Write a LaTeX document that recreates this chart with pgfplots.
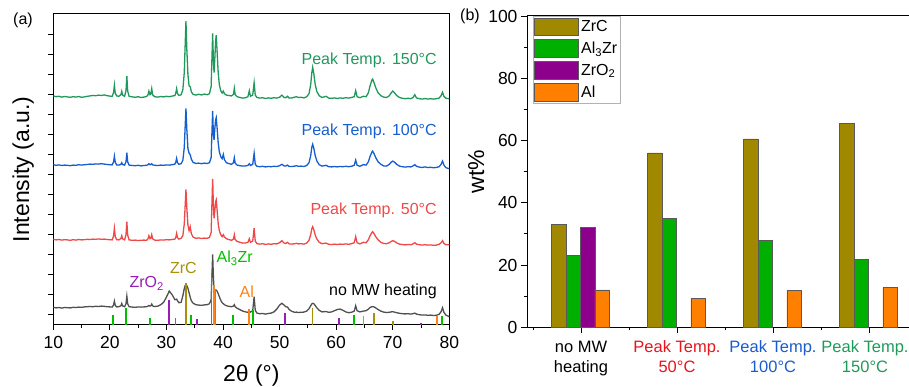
\documentclass[border=0pt]{standalone}
\usepackage{fontspec}
\setmainfont{Liberation Sans}
\usepackage{pgfplots}
\pgfplotsset{compat=1.18}
\usepackage{pgfplotstable}

\definecolor{cG}{RGB}{32,152,92}
\definecolor{cB}{RGB}{22,94,208}
\definecolor{cR}{RGB}{240,72,72}
\definecolor{cK}{RGB}{80,80,80}
\definecolor{sAZ}{RGB}{0,190,0}
\definecolor{sZO}{RGB}{150,30,180}
\definecolor{sZC}{RGB}{168,144,10}
\definecolor{sAL}{RGB}{255,130,20}
\definecolor{bZC}{RGB}{160,136,0}
\definecolor{bAZ}{RGB}{0,176,0}
\definecolor{bZO}{RGB}{140,0,140}
\definecolor{bAL}{RGB}{255,128,0}
\definecolor{tR}{RGB}{232,20,30}
\definecolor{tB}{RGB}{26,92,207}
\definecolor{tG}{RGB}{30,154,90}

\pgfplotstableread{
x g b r k
10.0 11.44 8.00 4.27 0.87
10.5 11.40 7.97 4.24 0.84
11.0 11.42 7.99 4.26 0.86
11.5 11.38 7.96 4.23 0.83
12.0 11.41 7.98 4.25 0.86
12.5 11.39 7.97 4.24 0.85
13.0 11.37 7.95 4.22 0.84
13.5 11.40 7.98 4.25 0.87
14.0 11.38 7.97 4.23 0.86
14.5 11.41 8.00 4.26 0.88
15.0 11.37 7.98 4.24 0.87
15.5 11.39 8.00 4.25 0.89
16.0 11.42 8.01 4.27 0.90
16.5 11.44 8.03 4.26 0.91
17.0 11.46 8.02 4.28 0.90
17.5 11.45 8.04 4.27 0.92
18.0 11.48 8.03 4.29 0.91
18.5 11.46 8.05 4.27 0.93
19.0 11.49 8.03 4.28 0.92
19.5 11.45 8.01 4.26 0.90
20.0 11.43 8.00 4.25 0.89
20.4 11.42 7.99 4.24 0.88
20.65 11.60 8.13 4.43 0.98
20.8 11.98 8.43 4.82 1.18
20.95 11.58 8.12 4.41 0.97
21.2 11.44 7.99 4.25 0.89
21.6 11.42 7.98 4.24 0.90
21.95 11.50 8.02 4.31 0.95
22.1 11.67 8.10 4.45 1.06
22.25 11.48 8.01 4.29 0.94
22.6 11.42 7.98 4.24 0.90
22.85 11.70 8.15 4.49 1.05
23.0 12.43 8.60 5.15 1.43
23.15 11.68 8.14 4.48 1.04
23.4 11.42 7.98 4.24 0.90
24.0 11.39 7.96 4.22 0.88
24.5 11.37 7.95 4.23 0.87
25.0 11.40 7.97 4.21 0.89
25.5 11.36 7.94 4.22 0.88
26.0 11.38 7.96 4.23 0.89
26.5 11.41 7.97 4.22 0.90
26.75 11.50 8.00 4.30 0.93
26.9 11.68 8.05 4.45 0.96
27.1 11.50 8.00 4.30 0.93
27.25 11.55 8.01 4.33 0.95
27.4 11.80 8.05 4.50 1.03
27.55 11.50 7.99 4.30 0.94
27.9 11.40 7.97 4.23 0.91
28.5 11.38 7.96 4.22 0.93
29.0 11.41 7.98 4.24 1.00
29.5 11.39 7.97 4.23 1.12
30.0 11.42 7.99 4.25 1.38
30.5 11.40 7.98 4.24 1.68
31.0 11.43 8.00 4.26 1.50
31.5 11.46 8.03 4.28 1.25
31.65 11.58 8.12 4.36 1.26
31.8 11.80 8.32 4.57 1.28
31.95 11.56 8.10 4.35 1.20
32.2 11.46 8.02 4.28 1.10
32.6 11.50 8.05 4.32 1.12
32.9 11.75 8.22 4.46 1.45
33.15 12.60 8.86 5.03 1.80
33.3 13.90 9.84 5.90 1.95
33.45 15.18 10.82 6.77 2.02
33.6 13.80 9.78 5.85 1.96
33.8 12.50 8.80 4.98 1.82
34.0 11.95 8.58 4.70 1.60
34.2 11.90 8.50 4.90 1.38
34.4 11.65 8.28 4.55 1.20
34.7 11.52 8.12 4.38 1.08
35.2 11.48 8.06 4.32 1.00
35.7 11.52 8.08 4.34 0.98
36.2 11.49 8.05 4.31 0.97
36.7 11.53 8.08 4.33 0.99
37.2 11.50 8.06 4.32 1.00
37.6 11.55 8.10 4.36 1.05
37.9 11.90 8.35 4.60 1.25
38.05 13.40 9.69 6.15 2.56
38.17 14.57 10.69 7.29 3.52
38.3 13.20 9.50 5.95 2.40
38.42 12.60 9.24 5.32 1.75
38.55 13.30 9.80 5.70 1.72
38.7 14.20 10.25 6.15 1.74
38.8 14.48 10.35 6.24 1.73
38.95 13.70 9.85 5.75 1.68
39.15 12.60 9.10 5.05 1.55
39.35 12.00 8.65 4.70 1.40
39.6 11.70 8.40 4.50 1.22
39.85 11.58 8.30 4.40 1.10
40.05 11.68 8.52 4.50 1.05
40.25 11.55 8.25 4.38 1.00
40.6 11.48 8.10 4.30 0.95
41.0 11.46 8.06 4.26 0.92
41.5 11.44 8.02 4.22 0.90
41.85 11.52 8.10 4.28 0.93
42.0 11.82 8.35 4.50 1.00
42.15 11.50 8.08 4.26 0.90
42.5 11.40 7.98 4.16 0.82
43.0 11.36 7.95 4.12 0.75
43.5 11.33 7.93 4.08 0.68
44.0 11.35 7.94 4.09 0.64
44.4 11.40 7.96 4.12 0.62
44.65 11.70 8.05 4.30 0.68
44.85 11.42 7.96 4.12 0.63
45.25 11.48 8.02 4.18 0.70
45.5 12.10 8.57 4.82 1.40
45.7 11.48 8.02 4.18 0.72
46.0 11.36 7.92 4.05 0.58
46.5 11.33 7.90 4.03 0.55
47.0 11.35 7.92 4.05 0.56
47.5 11.31 7.89 4.01 0.53
48.0 11.34 7.91 4.04 0.56
48.5 11.32 7.90 4.02 0.58
49.0 11.35 7.92 4.05 0.64
49.5 11.33 7.91 4.04 0.78
50.0 11.37 7.95 4.10 0.98
50.4 11.48 8.02 4.20 1.07
50.8 11.36 7.94 4.08 0.98
51.1 11.35 7.93 4.06 0.90
51.4 11.42 7.98 4.12 0.88
51.7 11.33 7.91 4.04 0.76
52.2 11.34 7.91 4.03 0.66
52.7 11.38 7.93 4.05 0.62
53.0 11.40 7.95 4.07 0.63
53.3 11.36 7.92 4.04 0.61
53.8 11.37 7.93 4.05 0.62
54.3 11.34 7.91 4.03 0.63
54.8 11.40 7.96 4.08 0.68
55.2 11.55 8.10 4.22 0.80
55.5 12.00 8.45 4.50 0.95
55.7 12.60 8.88 4.80 1.04
55.85 12.87 9.02 4.90 1.07
56.05 12.55 8.82 4.75 1.05
56.3 12.00 8.45 4.48 0.96
56.6 11.65 8.18 4.28 0.84
57.0 11.45 8.00 4.12 0.72
57.5 11.36 7.93 4.05 0.64
58.2 11.42 7.97 4.08 0.66
58.7 11.33 7.90 4.02 0.62
59.2 11.32 7.89 4.01 0.64
59.7 11.34 7.91 4.03 0.70
60.2 11.31 7.89 4.01 0.76
60.7 11.34 7.91 4.03 0.78
61.2 11.32 7.90 4.02 0.72
61.7 11.35 7.92 4.04 0.64
62.2 11.33 7.90 4.02 0.60
62.7 11.36 7.92 4.05 0.62
63.2 11.40 7.97 4.10 0.68
63.45 11.70 8.23 4.40 0.95
63.7 11.40 7.97 4.10 0.70
64.2 11.35 7.92 4.04 0.64
64.8 11.42 8.00 4.12 0.68
65.3 11.40 7.98 4.10 0.70
65.7 11.60 8.15 4.25 0.78
66.0 11.95 8.42 4.45 0.86
66.3 12.22 8.62 4.60 0.90
66.45 12.28 8.68 4.65 0.90
66.7 12.10 8.55 4.55 0.89
67.0 11.85 8.35 4.40 0.84
67.4 11.60 8.15 4.25 0.76
67.9 11.45 8.02 4.12 0.68
68.4 11.38 7.94 4.06 0.63
68.9 11.36 7.93 4.05 0.61
69.4 11.45 8.02 4.10 0.62
69.7 11.58 8.12 4.16 0.64
70.0 11.68 8.18 4.20 0.65
70.3 11.60 8.13 4.17 0.63
70.7 11.46 8.02 4.09 0.60
71.2 11.36 7.93 4.03 0.57
71.7 11.32 7.90 4.01 0.55
72.2 11.30 7.88 3.99 0.54
72.7 11.32 7.90 4.01 0.55
73.2 11.30 7.89 4.00 0.53
73.6 11.36 7.94 4.04 0.55
73.9 11.50 8.00 4.10 0.58
74.2 11.34 7.92 4.03 0.53
74.7 11.30 7.88 4.00 0.50
75.2 11.28 7.86 3.98 0.48
75.7 11.31 7.89 4.00 0.49
76.2 11.28 7.86 3.98 0.47
76.7 11.30 7.87 3.99 0.48
77.2 11.28 7.85 3.97 0.46
77.7 11.30 7.86 3.98 0.47
78.2 11.33 7.90 4.02 0.52
78.55 11.45 8.02 4.10 0.65
78.8 11.62 8.18 4.20 0.85
79.05 11.42 7.98 4.06 0.62
79.4 11.32 7.85 4.00 0.48
80.0 11.30 7.80 4.00 0.40
}\xrd

\pgfplotsset{
  barleg/.style={legend image code/.code={\draw[##1] (0pt,-8.8pt) rectangle (44pt,8.8pt);}},
}

\begin{document}
\begin{tikzpicture}
% ---------------- panel (a)
\begin{axis}[
  at={(53.3pt,61.3pt)}, anchor=south west,
  scale only axis, width=396pt, height=310.7pt,
  xmin=10, xmax=80, ymin=0, ymax=15.535,
  xtick={10,20,...,80}, minor xtick={15,25,...,75},
  ytick={0.5,1.5,...,14.5}, yticklabels={},
  xtick pos=bottom, ytick pos=left,
  tick align=outside, major tick length=5pt, minor tick length=3pt,
  tick style={black, line width=0.9pt},
  axis line style={line width=1pt},
  /pgf/number format/assume math mode=true,
  xticklabel style={font=\fontsize{17.5}{20}\selectfont, yshift=-3pt},
  label style={font=\fontsize{23}{27}\selectfont},
  xlabel={2θ (°)},
  xlabel style={at={(axis description cs:0.5,-0.165)}, anchor=center},
  ylabel={Intensity (a.u.)},
  ylabel style={at={(axis description cs:-0.076,0.5)}, anchor=center},
]
\addplot[cK, line width=1.3pt] table[x=x, y=k] {\xrd};
\addplot[cR, line width=1.3pt] table[x=x, y=r] {\xrd};
\addplot[cB, line width=1.3pt] table[x=x, y=b] {\xrd};
\addplot[cG, line width=1.3pt] table[x=x, y=g] {\xrd};
% reference sticks
\addplot[ycomb, sAZ, line width=1.6pt, mark=none] coordinates {
(20.55,0.5) (22.9,0.85) (27.1,0.35) (31.6,0.35) (34.3,0.5) (37.95,2.57) (41.8,0.5) (45.25,0.73) (63.2,0.5) (78.7,0.45)};
\addplot[ycomb, sZO, line width=1.6pt, mark=none] coordinates {
(30.5,1.23) (35.35,0.3) (50.95,0.6) (60.5,0.35) (74.95,0.1)};
\addplot[ycomb, sZC, line width=1.6pt, mark=none] coordinates {
(33.45,2.07) (38.7,1.8) (55.85,0.82) (66.65,0.57) (70.0,0.2)};
\addplot[ycomb, sAL, line width=1.6pt, mark=none] coordinates {
(38.45,2.0) (44.6,0.8) (64.8,0.43) (77.8,0.45)};
\begin{scope}[font=\fontsize{16}{19}\selectfont]
\node[anchor=east, text=cG] at (axis cs:78.4,13.2) {Peak Temp. 150°C};
\node[anchor=east, text=cB] at (axis cs:78.4,9.65) {Peak Temp. 100°C};
\node[anchor=east, text=cR] at (axis cs:78.4,5.73) {Peak Temp. 50°C};
\node[anchor=east, text=black] at (axis cs:78.4,1.65) {no MW heating};
\node[text=sZO] at (axis cs:26.5,2.07) {ZrO\textsubscript{2}};
\node[text=sZC] at (axis cs:33.0,2.82) {ZrC};
\node[anchor=west, text=sAZ, inner sep=0pt] at (axis cs:38.85,3.32) {Al\textsubscript{3}Zr};
\node[text=sAL] at (axis cs:44.2,1.65) {Al};
\end{scope}
\end{axis}
\node[font=\fontsize{16}{19}\selectfont] at (23pt,366pt) {(a)};
% ---------------- panel (b)
\begin{axis}[
  at={(527pt,58.7pt)}, anchor=south west,
  scale only axis, width=385pt, height=311.3pt,
  xmin=-0.5625, xmax=3.448, ymin=0, ymax=100,
  ytick={0,20,...,100}, minor ytick={10,30,...,90},
  xtick={0,1,2,3}, minor xtick={-0.5,0.5,1.5,2.5},
  xticklabels={
    {no MW\\heating},
    {\textcolor{tR}{Peak Temp.}\\\textcolor{tR}{50°C}},
    {\textcolor{tB}{Peak Temp.}\\\textcolor{tB}{100°C}},
    {\textcolor{tG}{Peak Temp.}\hspace*{8pt}\\\textcolor{tG}{150°C}\hspace*{8pt}}},
  xticklabel style={align=center, font=\fontsize{16.5}{20}\selectfont, yshift=-4pt},
  yticklabel style={font=\fontsize{17.5}{20}\selectfont},
  xtick pos=bottom, ytick pos=left,
  tick align=outside, major tick length=6pt, minor tick length=3pt,
  tick style={black, line width=0.9pt},
  axis line style={line width=1pt},
  /pgf/number format/assume math mode=true,
  label style={font=\fontsize{23}{27}\selectfont},
  ylabel={wt\%},
  ylabel style={at={(axis description cs:-0.132,0.5)}, anchor=center},
  ybar, bar width=0.15,
  legend style={at={(axis description cs:0.015,1)}, anchor=north west,
    draw=black!30, fill=white, font=\fontsize{16}{19}\selectfont,
    inner sep=1.5pt, row sep=3.6pt, cells={anchor=west}},
]
\addplot[fill=bZC, draw=black!65, line width=0.6pt, bar shift=0pt, barleg] coordinates {(-0.23,33) (0.77,56) (1.77,60.5) (2.77,65.5)};
\addplot[fill=bAZ, draw=black!65, line width=0.6pt, bar shift=0pt, barleg] coordinates {(-0.08,23.2) (0.92,35) (1.92,27.8) (2.92,21.8)};
\addplot[fill=bZO, draw=black!65, line width=0.6pt, bar shift=0pt, barleg] coordinates {(0.07,32)};
\addplot[fill=bAL, draw=black!65, line width=0.6pt, bar shift=0pt, barleg] coordinates {(0.22,12) (1.22,9.2) (2.22,11.8) (3.22,12.8)};
\legend{ZrC, Al\textsubscript{3}Zr, ZrO\textsubscript{2}, Al}
\end{axis}
\node[font=\fontsize{16}{19}\selectfont] at (470pt,370pt) {(b)};
\pgfresetboundingbox
\path[use as bounding box] (0,0) rectangle (909pt,386pt);
\end{tikzpicture}
\end{document}
